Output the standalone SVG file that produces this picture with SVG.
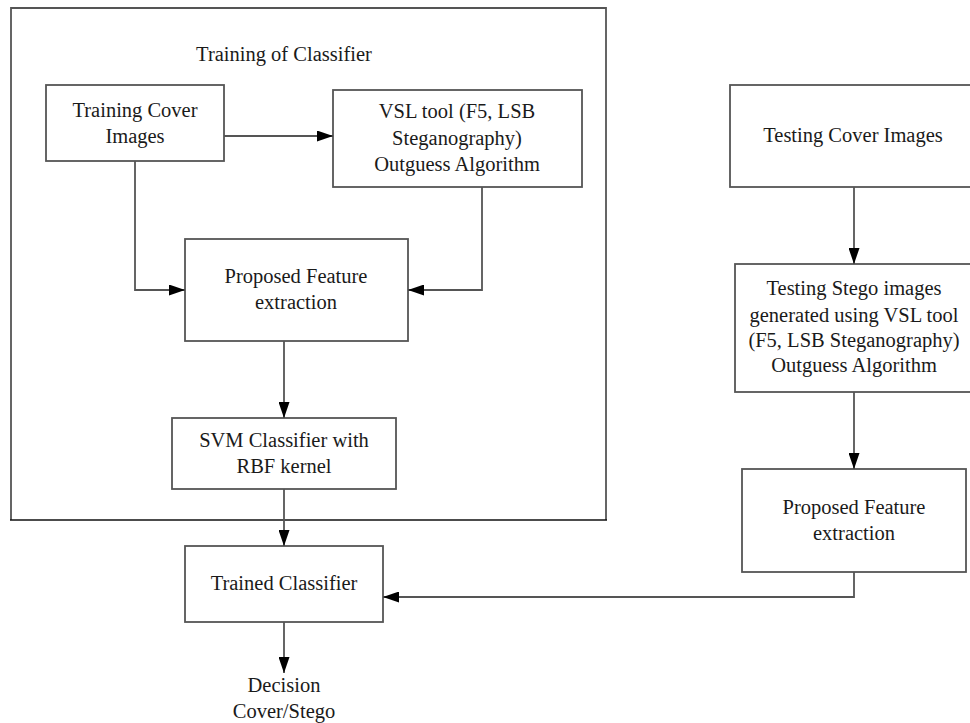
<svg xmlns="http://www.w3.org/2000/svg" width="970" height="723" viewBox="0 0 970 723">
<defs>
<style>
.box{fill:#fff;stroke:#555;stroke-width:1.8}
.frame{fill:none;stroke:#555;stroke-width:1.8}
.ln{fill:none;stroke:#555;stroke-width:1.8}
.dk{fill:none;stroke:#111;stroke-width:1.6}
.t{font-family:"Liberation Serif","Times New Roman",serif;font-size:20.5px;fill:#1a1a1a;text-anchor:middle}
</style>
<marker id="ah" markerUnits="userSpaceOnUse" markerWidth="16" markerHeight="11" refX="16" refY="5.5" orient="auto">
<path d="M0,0 L16,5.5 L0,11 z" fill="#000"/>
</marker>
</defs>
<rect width="970" height="723" fill="#fff"/>
<g id="training-frame">
<path class="frame" d="M11,520 V8 H606 V520"/>
<path class="dk" d="M10,520 H607"/>
<text class="t" x="284" y="61">Training of Classifier</text>
</g>
<g id="training-cover">
<rect class="box" x="46" y="85" width="178" height="76"/>
<text class="t" x="135" y="117">Training Cover</text>
<text class="t" x="135" y="143">Images</text>
</g>
<g id="vsl-tool">
<rect class="box" x="333" y="90" width="249" height="97"/>
<text class="t" x="457" y="118">VSL tool (F5, LSB</text>
<text class="t" x="457" y="145">Steganography)</text>
<text class="t" x="457" y="171">Outguess Algorithm</text>
</g>
<g id="feature-train">
<rect class="box" x="185" y="239" width="223" height="102"/>
<text class="t" x="296" y="283">Proposed Feature</text>
<text class="t" x="296" y="309">extraction</text>
</g>
<g id="svm">
<rect class="box" x="172" y="418" width="224" height="71"/>
<text class="t" x="284" y="447">SVM Classifier with</text>
<text class="t" x="284" y="473">RBF kernel</text>
</g>
<g id="trained">
<rect class="box" x="185" y="546" width="198" height="76"/>
<text class="t" x="284" y="590">Trained Classifier</text>
</g>
<g id="decision">
<text class="t" x="284" y="692">Decision</text>
<text class="t" x="284" y="718">Cover/Stego</text>
</g>
<g id="testing-cover">
<rect class="box" x="730" y="85" width="250" height="102"/>
<text class="t" x="853" y="142">Testing Cover Images</text>
</g>
<g id="testing-stego">
<rect class="box" x="735" y="264" width="245" height="128"/>
<text class="t" x="854" y="295">Testing Stego images</text>
<text class="t" x="854" y="322">generated using VSL tool</text>
<text class="t" x="854" y="347">(F5, LSB Steganography)</text>
<text class="t" x="854" y="372">Outguess Algorithm</text>
</g>
<g id="feature-test">
<rect class="box" x="742" y="469" width="224" height="103"/>
<text class="t" x="854" y="514">Proposed Feature</text>
<text class="t" x="854" y="540">extraction</text>
</g>
<g id="connectors">
<path class="ln" d="M224,136 H333" marker-end="url(#ah)"/>
<path class="ln" d="M135,161 V290 H185" marker-end="url(#ah)"/>
<path class="ln" d="M482,187 V290 H408" marker-end="url(#ah)"/>
<path class="ln" d="M284,341 V418" marker-end="url(#ah)"/>
<path class="ln" d="M284,489 V546" marker-end="url(#ah)"/>
<path class="ln" d="M284,622 V673" marker-end="url(#ah)"/>
<path class="ln" d="M854,187 V264" marker-end="url(#ah)"/>
<path class="ln" d="M854,392 V469" marker-end="url(#ah)"/>
<path class="ln" d="M854,572 V597 H383" marker-end="url(#ah)"/>
</g>
</svg>
